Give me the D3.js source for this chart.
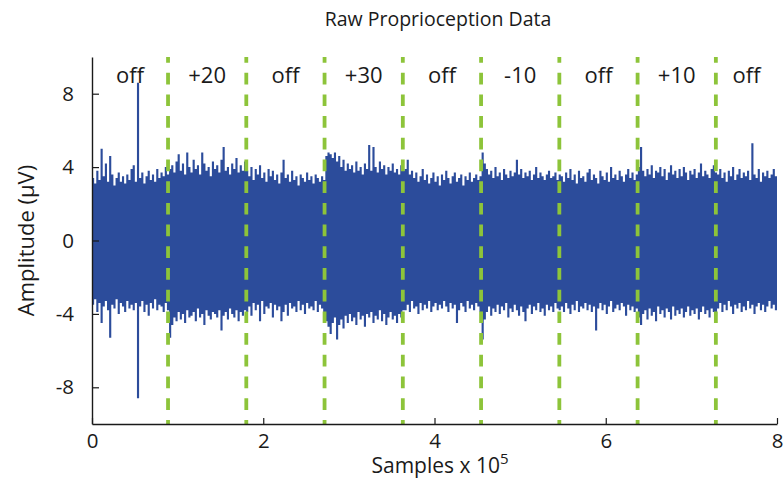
<!DOCTYPE html>
<html>
<head>
<meta charset="utf-8">
<script src="https://cdn.jsdelivr.net/npm/d3@7"></script>
<style>
  html, body { margin: 0; padding: 0; background: #fff; }
  svg { display: block; font-family: "Open Sans", "Noto Sans", sans-serif; }
</style>
</head>
<body>
<svg id="chart" width="783" height="479"></svg>
<script>
// Per-bin envelope of the raw recording: bin width 0.025 x 10^5 samples (320 bins).
const binWidth = 0.025;

// Maximum amplitude (µV) reached inside each bin
const upperPeaks = [
  3.4, 3.1, 3.8, 3.3, 5.0, 3.5, 4.2, 3.2, 4.6, 3.6, 3.0, 3.4, 3.7, 3.2, 3.5, 3.1, 3.6, 3.3, 3.9, 4.1,
  3.2, 8.6, 3.4, 3.7, 3.1, 3.5, 3.8, 3.3, 3.6, 3.2, 3.9, 3.4, 3.7, 3.5, 4.0, 3.6,
  3.9, 4.1, 3.7, 4.3, 4.7, 3.8, 4.2, 3.6, 4.8, 4.0, 3.7, 4.4, 3.9, 4.1, 3.6, 4.8, 4.2, 3.8, 4.0, 3.5,
  4.3, 3.9, 4.1, 3.7, 4.4, 5.1, 3.8, 4.0, 3.6, 4.2, 3.9, 4.5, 3.7, 4.1, 3.8, 4.3,
  3.8, 3.5, 4.0, 3.3, 3.9, 3.6, 4.1, 3.4, 3.7, 3.2, 3.9, 3.5, 3.8, 3.3, 3.6, 3.1, 3.7, 4.4, 3.4, 3.6,
  3.2, 3.8, 3.3, 3.5, 3.0, 3.6, 3.4, 3.2, 3.7, 3.3, 3.5, 3.1, 3.6, 3.4, 3.2, 3.5, 3.3,
  4.6, 4.8, 4.7, 4.5, 4.8, 4.3, 4.6, 4.0, 4.4, 3.8, 4.2, 3.9, 4.1, 3.7, 4.3, 3.8, 4.0, 3.6, 4.2, 3.9,
  5.2, 3.8, 5.1, 4.0, 3.7, 4.3, 3.9, 4.1, 3.6, 4.0, 3.8, 4.2, 3.7, 3.9, 3.6, 4.1, 3.8,
  3.9, 4.4, 3.6, 3.8, 3.4, 3.7, 3.2, 3.5, 3.9, 3.3, 3.6, 3.1, 3.4, 3.7, 3.2, 3.5, 3.0, 3.6, 3.3, 3.8,
  3.4, 3.1, 3.5, 3.7, 3.2, 3.4, 3.6, 3.0, 3.5, 3.3, 3.7, 3.2, 3.4, 3.6, 3.3, 3.5,
  4.8, 4.2, 3.9, 3.6, 3.8, 3.4, 4.0, 3.5, 3.7, 3.3, 3.9, 3.6, 3.4, 3.8, 3.5, 3.7, 4.4, 3.6, 3.9, 3.4,
  3.7, 3.5, 3.8, 3.3, 3.6, 4.0, 3.4, 3.7, 3.5, 3.3, 3.6, 3.8, 3.4, 3.5, 3.7, 3.3, 3.6,
  3.5, 3.2, 3.7, 3.4, 3.9, 3.3, 3.6, 3.1, 3.8, 3.4, 3.5, 3.2, 3.7, 3.9, 3.3, 3.6, 3.4, 3.1, 3.8, 3.5,
  3.3, 3.7, 3.2, 4.0, 3.4, 3.6, 3.3, 3.8, 3.5, 3.2, 3.6, 3.9, 3.4, 3.7, 3.3, 3.6,
  4.0, 5.1, 3.8, 3.5, 3.9, 3.6, 4.1, 3.4, 3.8, 3.7, 4.0, 3.5, 3.9, 3.3, 3.7, 4.1, 3.6, 3.8, 3.4, 3.9,
  3.5, 4.0, 3.7, 3.3, 3.8, 3.6, 3.9, 3.4, 3.7, 4.2, 3.5, 3.8, 3.6, 3.4, 3.9, 4.1, 3.7,
  3.6, 3.9, 3.4, 3.7, 3.2, 3.8, 3.5, 4.0, 3.3, 3.6, 3.9, 3.4, 3.7, 3.5, 3.8, 3.3, 5.3, 3.6, 3.4, 3.9,
  3.2, 3.7, 3.5, 3.8, 3.4, 3.6, 3.9, 3.5
];

// Minimum amplitude (µV) reached inside each bin
const lowerPeaks = [
  -3.5, -3.2, -3.9, -3.4, -4.5, -3.6, -3.3, -3.8, -5.3, -3.5, -3.7, -3.2, -4.0, -3.4, -3.6, -3.9, -3.3, -3.7, -3.5, -3.8,
  -3.4, -8.6, -3.6, -3.3, -3.9, -3.5, -4.1, -3.4, -3.7, -3.2, -3.8, -3.5, -3.6, -3.9, -3.4, -3.8,
  -5.3, -4.6, -4.2, -4.4, -3.9, -4.3, -4.0, -4.5, -3.8, -4.2, -4.1, -3.9, -4.4, -3.7, -4.2, -4.0, -4.6, -3.8, -4.1, -4.3,
  -3.9, -4.0, -4.2, -3.8, -4.9, -4.1, -3.9, -4.3, -3.7, -4.0, -4.2, -3.8, -4.4, -3.9, -4.1, -3.8,
  -3.9, -3.6, -4.1, -3.4, -3.8, -3.5, -4.4, -3.3, -4.0, -3.6, -3.7, -3.4, -4.2, -3.5, -3.8, -3.6, -4.4, -3.9, -3.5, -4.1,
  -3.4, -3.7, -3.6, -3.9, -3.3, -3.8, -3.5, -4.0, -3.4, -3.7, -3.6, -3.8, -3.3, -3.9, -3.5, -3.7, -4.0,
  -4.4, -4.7, -5.1, -4.5, -4.2, -5.4, -4.6, -4.3, -4.8, -4.1, -4.5, -4.0, -4.4, -4.2, -4.6, -3.9, -4.3, -4.1, -4.7, -4.0,
  -4.2, -3.9, -4.5, -4.1, -4.3, -3.8, -4.4, -4.0, -4.6, -4.2, -3.9, -4.3, -4.1, -4.5, -4.0, -4.2, -3.8,
  -3.8, -3.5, -3.9, -3.3, -3.7, -3.6, -4.0, -3.4, -3.8, -3.5, -3.7, -3.3, -3.9, -3.6, -3.4, -3.8, -3.5, -3.7, -3.3, -3.6,
  -3.9, -3.4, -3.7, -3.5, -4.5, -3.8, -3.4, -3.6, -3.9, -3.3, -3.7, -3.5, -3.8, -3.4, -3.6, -3.9,
  -5.4, -4.3, -3.9, -3.6, -4.1, -3.7, -3.9, -3.5, -4.0, -3.6, -3.8, -3.4, -4.2, -3.7, -3.9, -3.5, -3.8, -4.1, -3.6, -3.9,
  -4.4, -3.7, -3.5, -4.0, -3.6, -3.8, -3.4, -3.9, -3.7, -4.1, -3.5, -3.8, -3.6, -3.9, -3.4, -3.7, -3.8,
  -3.6, -3.9, -3.4, -3.7, -4.0, -3.5, -3.8, -3.3, -3.9, -3.6, -3.7, -3.4, -3.8, -3.5, -3.9, -3.6, -4.9, -3.7, -3.4, -3.8,
  -3.5, -4.0, -3.6, -3.3, -3.9, -3.7, -3.5, -3.8, -3.4, -3.6, -4.1, -3.5, -3.8, -3.6, -3.9, -3.7,
  -4.2, -4.6, -4.0, -3.8, -4.3, -3.7, -4.1, -3.9, -4.4, -3.6, -4.0, -3.8, -4.2, -3.7, -3.9, -4.3, -3.6, -4.1, -3.8, -4.0,
  -3.7, -4.2, -3.9, -3.6, -4.1, -3.8, -4.0, -3.7, -4.3, -3.9, -3.6, -4.0, -3.8, -4.2, -3.7, -3.9, -4.1,
  -3.7, -3.4, -3.9, -3.5, -3.8, -3.3, -3.6, -4.0, -3.5, -3.7, -3.4, -3.9, -3.6, -3.8, -3.3, -3.7, -3.5, -4.0, -3.6, -3.4,
  -3.8, -3.5, -3.9, -3.6, -3.3, -3.7, -3.5, -3.8
];

// Stimulus condition changes (x 10^5 samples) and the condition of each block
const conditionChanges = [0.888, 1.802, 2.716, 3.630, 4.544, 5.458, 6.372, 7.286];
const conditionLabels = ["off", "+20", "off", "+30", "off", "-10", "off", "+10", "off"];

// Axis ticks
const xTicks = [0, 2, 4, 6, 8];
const yTicks = [-8, -4, 0, 4, 8];

const svg = d3.select("#chart");
const margin = { left: 92, right: 6, top: 57, bottom: 55 };
const W = 783, H = 479;

const x = d3.scaleLinear().domain([0, 8]).range([margin.left, W - margin.right]);
const y = d3.scaleLinear().domain([-10, 10]).range([H - margin.bottom, margin.top]);

// Signal: min-max envelope per bin, drawn as one stepped shape
const bins = upperPeaks.map((u, i) => ({ t: i * binWidth, hi: u, lo: lowerPeaks[i] }));
bins.push({ t: 8, hi: upperPeaks[upperPeaks.length - 1], lo: lowerPeaks[lowerPeaks.length - 1] });

const envelope = d3.area()
  .curve(d3.curveStepAfter)
  .x(d => x(d.t))
  .y0(d => y(d.lo))
  .y1(d => y(d.hi));

svg.append("path")
  .datum(bins)
  .attr("d", envelope)
  .attr("fill", "#2c4c9b");

// Condition boundaries
svg.append("g")
  .selectAll("line")
  .data(conditionChanges)
  .join("line")
  .attr("x1", d => x(d)).attr("x2", d => x(d))
  .attr("y1", y(10)).attr("y2", y(-10))
  .attr("stroke", "#8dc43a")
  .attr("stroke-width", 3.8)
  .attr("stroke-dasharray", "11.7,10")
  .attr("stroke-dashoffset", 6);

// Condition labels, centred in each block
const edges = [0, ...conditionChanges, 8];
svg.append("g")
  .selectAll("text")
  .data(conditionLabels)
  .join("text")
  .attr("x", (d, i) => x((edges[i] + edges[i + 1]) / 2))
  .attr("y", 83)
  .attr("text-anchor", "middle")
  .attr("font-size", 22)
  .attr("fill", "#1a1a1a")
  .text(d => d);

// Axes with inward ticks
const yAxis = d3.axisLeft(y).tickValues(yTicks).tickSize(-7).tickSizeOuter(0).tickPadding(18)
  .tickFormat(d => String(d));
const xAxis = d3.axisBottom(x).tickValues(xTicks).tickSize(-6).tickSizeOuter(0).tickPadding(9)
  .tickFormat(d => String(d));

const gy = svg.append("g").attr("transform", `translate(${margin.left},0)`).call(yAxis);
const gx = svg.append("g").attr("transform", `translate(0,${H - margin.bottom})`).call(xAxis);

[gx, gy].forEach(g => {
  g.select(".domain").attr("stroke", "#1a1a1a").attr("stroke-width", 1.4);
  g.selectAll(".tick line").attr("stroke", "#1a1a1a").attr("stroke-width", 1.2);
  g.selectAll(".tick text")
    .attr("font-size", 20.5)
    .attr("font-family", "'Open Sans', 'Noto Sans', sans-serif")
    .attr("fill", "#1a1a1a");
});

// Title
svg.append("text")
  .attr("x", 438).attr("y", 26)
  .attr("text-anchor", "middle")
  .attr("font-size", 19.5)
  .attr("fill", "#1a1a1a")
  .text("Raw Proprioception Data");

// X axis label with superscript exponent
const xl = svg.append("text")
  .attr("x", 440).attr("y", 473)
  .attr("text-anchor", "middle")
  .attr("font-size", 21)
  .attr("fill", "#1a1a1a");
xl.append("tspan").text("Samples x 10");
xl.append("tspan").attr("font-size", 15).attr("dy", -9).text("5");

// Y axis label
svg.append("text")
  .attr("transform", `translate(34,${y(0)}) rotate(-90)`)
  .attr("text-anchor", "middle")
  .attr("font-size", 22)
  .attr("fill", "#1a1a1a")
  .text("Amplitude (µV)");
</script>
</body>
</html>
